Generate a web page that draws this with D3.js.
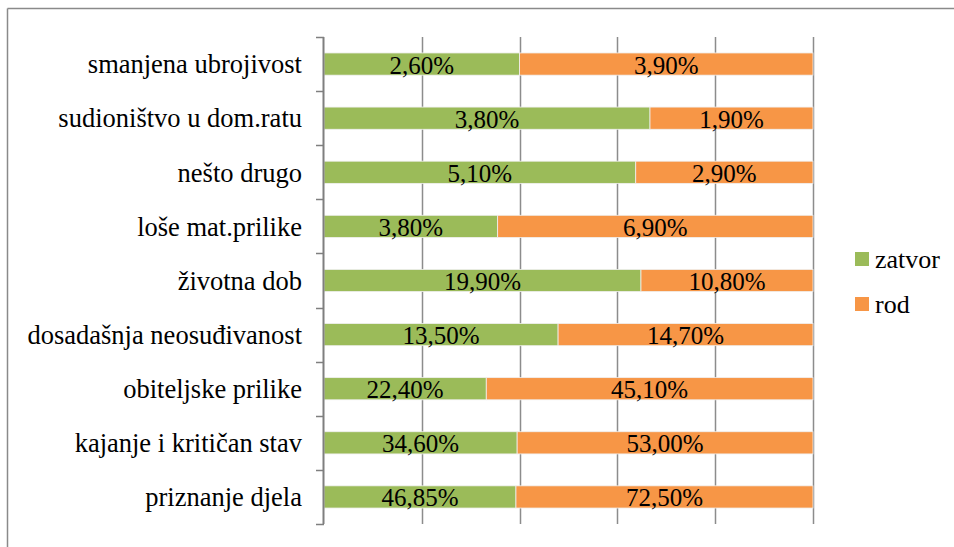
<!DOCTYPE html>
<html>
<head>
<meta charset="utf-8">
<script src="https://cdn.jsdelivr.net/npm/d3@7"></script>
<style>
  html, body { margin: 0; padding: 0; background: #fff; }
  svg { display: block; }
</style>
</head>
<body>
<svg id="chart" width="954" height="547"></svg>
<script>
// Categories, top to bottom
const categories = [
  "smanjena ubrojivost",
  "sudioništvo u dom.ratu",
  "nešto drugo",
  "loše mat.prilike",
  "životna dob",
  "dosadašnja neosuđivanost",
  "obiteljske prilike",
  "kajanje i kritičan stav",
  "priznanje djela"
];
// Percentages per series
const zatvor = [2.60, 3.80, 5.10, 3.80, 19.90, 13.50, 22.40, 34.60, 46.85];
const rod    = [3.90, 1.90, 2.90, 6.90, 10.80, 14.70, 45.10, 53.00, 72.50];
const seriesNames = ["zatvor", "rod"];
const seriesColors = ["#9BBB59", "#F79646"];
const gridTicks = [0, 0.2, 0.4, 0.6, 0.8, 1];

const FONT = '"Liberation Serif"';
const svg = d3.select("#chart");

// Outer frame
svg.append("line").attr("x1", 7.5).attr("x2", 954).attr("y1", 8.5).attr("y2", 8.5)
  .attr("stroke", "#8a8a8a").attr("stroke-width", 1.5);
svg.append("line").attr("x1", 7.5).attr("x2", 7.5).attr("y1", 8.5).attr("y2", 547)
  .attr("stroke", "#8a8a8a").attr("stroke-width", 1.5);

const plot = { left: 324, right: 813, top: 37, bottom: 524 };

const rows = categories.map((c, i) => ({ cat: c, values: [zatvor[i], rod[i]] }));
const stack = d3.stack()
  .keys([0, 1])
  .value((d, k) => d.values[k])
  .offset(d3.stackOffsetExpand);
const layers = stack(rows);

const x = d3.scaleLinear().domain([0, 1]).range([plot.left, plot.right]);
const y = d3.scaleBand().domain(categories).range([plot.top, plot.bottom])
  .paddingInner(0.59).paddingOuter(0.295);
const yTicks = d3.scaleBand().domain(categories).range([plot.top, plot.bottom]);

// Vertical gridlines
svg.append("g").selectAll("line").data(gridTicks.slice(1)).join("line")
  .attr("x1", d => Math.round(x(d)) + 0.5).attr("x2", d => Math.round(x(d)) + 0.5)
  .attr("y1", plot.top).attr("y2", plot.bottom)
  .attr("stroke", "#8c8c8c").attr("stroke-width", 1.5);

// Bars
const g = svg.append("g");
layers.forEach((layer, k) => {
  g.append("g").selectAll("rect").data(layer).join("rect")
    .attr("x", d => x(d[0]))
    .attr("width", d => x(d[1]) - x(d[0]))
    .attr("y", d => y(d.data.cat))
    .attr("height", y.bandwidth())
    .attr("fill", seriesColors[k])
    .attr("stroke", "#f0f0f0").attr("stroke-width", 0.8);
});

// Value labels
layers.forEach((layer, k) => {
  g.append("g").selectAll("text").data(layer).join("text")
    .attr("x", d => (x(d[0]) + x(d[1])) / 2)
    .attr("y", d => y(d.data.cat) + y.bandwidth() / 2)
    .attr("dy", "0.38em")
    .attr("text-anchor", "middle")
    .style("font-family", FONT).style("font-size", "25px").style("fill", "#000")
    .text(d => d.data.values[k].toFixed(2).replace(".", ",") + "%");
});

// Category axis
const axisY = d3.axisLeft(yTicks).tickSize(0).tickPadding(22);
const ay = svg.append("g").attr("transform", `translate(${plot.left},0)`).call(axisY);
ay.attr("font-family", null).attr("font-size", null);
ay.select(".domain").remove();
ay.selectAll("text")
  .attr("dy", "0.35em")
  .style("font-family", FONT).style("font-size", "26.5px").style("fill", "#000");

// Axis line with boundary ticks
const tickPositions = categories.map(c => yTicks(c)).concat([plot.bottom]);
svg.append("line").attr("x1", plot.left - 0.5).attr("x2", plot.left - 0.5)
  .attr("y1", plot.top).attr("y2", plot.bottom)
  .attr("stroke", "#7f7f7f").attr("stroke-width", 2);
svg.append("g").selectAll("line").data(tickPositions).join("line")
  .attr("x1", plot.left - 8).attr("x2", plot.left)
  .attr("y1", d => Math.round(d) + 0.5).attr("y2", d => Math.round(d) + 0.5)
  .attr("stroke", "#7f7f7f").attr("stroke-width", 1.5);

// Legend
const legend = svg.append("g").selectAll("g").data(seriesNames).join("g")
  .attr("transform", (d, i) => `translate(855,${252 + i * 45})`);
legend.append("rect").attr("width", 14).attr("height", 14)
  .attr("fill", (d, i) => seriesColors[i]);
legend.append("text").attr("x", 20).attr("y", 7).attr("dy", "0.35em")
  .style("font-family", FONT).style("font-size", "26px").style("fill", "#000")
  .text(d => d);
</script>
</body>
</html>
